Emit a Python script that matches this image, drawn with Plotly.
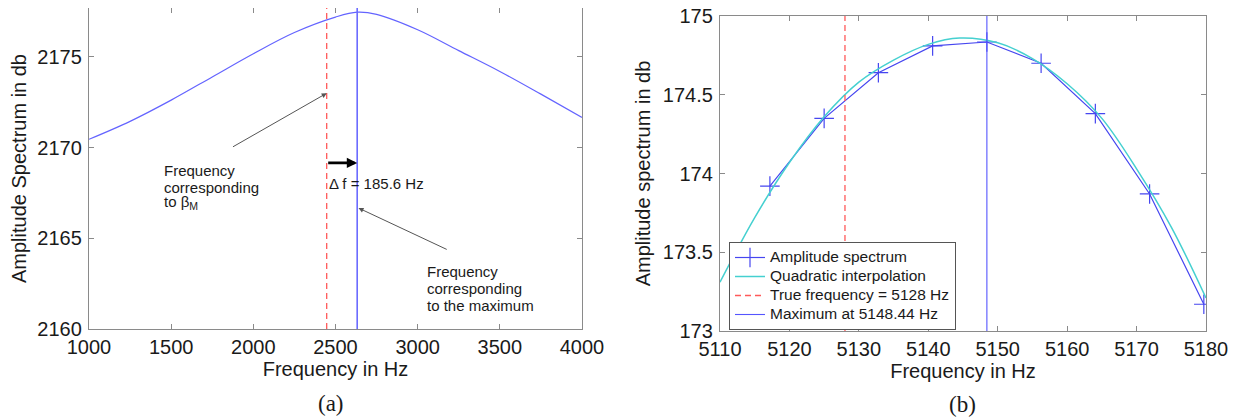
import plotly.graph_objects as go

# ---------------- data: panel (a) ----------------
a_freq = [1000, 1250, 1500, 1750, 2000, 2250, 2500, 2632, 2750, 3000, 3250, 3500, 3750, 4000]
a_db = [2170.46, 2171.45, 2172.62, 2173.90, 2175.18, 2176.35, 2177.20, 2177.47, 2177.35,
        2176.50, 2175.35, 2174.20, 2172.95, 2171.67]
a_beta_freq = 2446.4
a_max_freq = 2632.0
a_delta_text = "Δ f = 185.6 Hz"
a_xticks = [1000, 1500, 2000, 2500, 3000, 3500, 4000]
a_yticks = [2160, 2165, 2170, 2175]
a_xrange = [1000, 4000]
a_yrange = [2160, 2177.7]

# ---------------- data: panel (b) ----------------
b_freq = [5117.1875, 5125.0, 5132.8125, 5140.625, 5148.4375, 5156.25, 5164.0625, 5171.875, 5179.6875]
b_db = [173.92, 174.35, 174.64, 174.81, 174.835, 174.70, 174.38, 173.87, 173.17]
b_quad_freq = [5110, 5115, 5120, 5125, 5130, 5135, 5140, 5144.5, 5150, 5155, 5160, 5165, 5170, 5175, 5180]
b_quad_db = [173.31, 173.72, 174.07, 174.36, 174.58, 174.72, 174.82, 174.86, 174.83, 174.73,
             174.57, 174.35, 174.03, 173.66, 173.21]
b_true_freq = 5128.0
b_max_freq = 5148.44
b_xticks = [5110, 5120, 5130, 5140, 5150, 5160, 5170, 5180]
b_yticks = [173, 173.5, 174, 174.5, 175]
b_ytick_text = ["173", "173.5", "174", "174.5", "175"]
b_xrange = [5110, 5180]
b_yrange = [173, 175]
b_names = ["Amplitude spectrum", "Quadratic interpolation", "True frequency = 5128 Hz", "Maximum at 5148.44 Hz"]

SANS = "Arial, Liberation Sans, sans-serif"
SERIF = "Times New Roman, Liberation Serif, serif"
AX = "#8a8a8a"
TXT = "#1a1a1a"

# page body has an 8px margin: size the figure to fill the rest and map screen px -> paper fractions
OFF = 8
W, H = 1245 - OFF, 419 - OFF


def fx(s):
    return min(1.0, max(0.0, (s - OFF) / W))


def fy(s):
    return min(1.0, max(0.0, 1 - (s - OFF) / H))


def leg(name):
    return '<span style="font-size:15.5px">' + name + '</span>'


fig = go.Figure()

# panel (a)
fig.add_trace(go.Scatter(x=a_freq, y=a_db, mode="lines", line=dict(color="#6464ff", width=1.2, shape="spline"),
                         xaxis="x", yaxis="y", showlegend=False))
fig.add_trace(go.Scatter(x=[a_beta_freq, a_beta_freq], y=a_yrange, mode="lines",
                         line=dict(color="#ff5a5a", width=1.3, dash="6px,4px"),
                         xaxis="x", yaxis="y", showlegend=False))
fig.add_trace(go.Scatter(x=[a_max_freq, a_max_freq], y=a_yrange, mode="lines",
                         line=dict(color="#6b6bff", width=1.6),
                         xaxis="x", yaxis="y", showlegend=False))

# panel (b)
fig.add_trace(go.Scatter(x=b_freq, y=b_db, mode="lines+markers", name=leg(b_names[0]),
                         line=dict(color="#4646f0", width=1.2),
                         marker=dict(symbol="cross-thin", size=14, line=dict(color="#4646f0", width=1.2)),
                         xaxis="x2", yaxis="y2"))
fig.add_trace(go.Scatter(x=b_quad_freq, y=b_quad_db, mode="lines", name=leg(b_names[1]),
                         line=dict(color="#45d0d0", width=1.5, shape="spline"),
                         xaxis="x2", yaxis="y2"))
fig.add_trace(go.Scatter(x=[b_true_freq, b_true_freq], y=b_yrange, mode="lines",
                         name=leg(b_names[2]),
                         line=dict(color="#ff5a5a", width=1.3, dash="6px,4px"),
                         xaxis="x2", yaxis="y2"))
fig.add_trace(go.Scatter(x=[b_max_freq, b_max_freq], y=b_yrange, mode="lines",
                         name=leg(b_names[3]),
                         line=dict(color="#5555ff", width=1.1),
                         xaxis="x2", yaxis="y2"))

axis_common = dict(showline=True, linecolor=AX, linewidth=1.3, mirror="ticks", ticks="inside",
                   ticklen=5, tickcolor=AX, tickwidth=1, showgrid=False, zeroline=False,
                   automargin=False, ticklabeloverflow="allow",
                   tickfont=dict(family=SANS, size=20, color=TXT),
                   title_font=dict(family=SANS, size=20, color=TXT))

fig.update_layout(
    width=W, height=H,
    margin=dict(l=0, r=0, t=0, b=0, autoexpand=False),
    paper_bgcolor="white", plot_bgcolor="white",
    font=dict(family=SANS, color=TXT),
    xaxis=dict(domain=[fx(89), fx(582)], range=a_xrange, tickvals=a_xticks, anchor="y",
               title=dict(text="Frequency in Hz", standoff=4), **axis_common),
    yaxis=dict(domain=[fy(329), fy(8)], range=a_yrange, tickvals=a_yticks, anchor="x",
               ticklabelstandoff=2,
               title=dict(text="Amplitude Spectrum in db", standoff=6), **axis_common),
    xaxis2=dict(domain=[fx(720), fx(1206)], range=b_xrange, tickvals=b_xticks, anchor="y2",
                title=dict(text="Frequency in Hz", standoff=4), **axis_common),
    yaxis2=dict(domain=[fy(331), fy(16)], range=b_yrange, tickvals=b_yticks, ticktext=b_ytick_text,
                anchor="x2", ticklabelstandoff=2,
                title=dict(text="Amplitude spectrum in db", standoff=6), **axis_common),
    legend=dict(x=fx(729), y=fy(242), xanchor="left", yanchor="top",
                bgcolor="white", bordercolor="#555555", borderwidth=1,
                font=dict(family=SANS, size=10.8, color=TXT), tracegroupgap=0, itemwidth=30),
    showlegend=True,
)

ann_font = dict(family=SANS, size=15, color=TXT)
annotations = []
# left text block
for txt, yv in [("Frequency", 2168.75), ("corresponding", 2167.82), ("to β<sub>M</sub>", 2166.95)]:
    annotations.append(dict(x=1445, y=yv, xref="x", yref="y", text=txt, showarrow=False,
                            xanchor="left", yanchor="middle", font=ann_font))
# right text block
for txt, yv in [("Frequency", 2163.19), ("corresponding", 2162.26), ("to the maximum", 2161.32)]:
    annotations.append(dict(x=3043, y=yv, xref="x", yref="y", text=txt, showarrow=False,
                            xanchor="left", yanchor="middle", font=ann_font))
# delta text
annotations.append(dict(x=2451, y=2168.04, xref="x", yref="y", text=a_delta_text, showarrow=False,
                        xanchor="left", yanchor="middle", font=ann_font))
# thin arrows
annotations.append(dict(x=a_beta_freq, y=2173.0, xref="x", yref="y", ax=1867, ay=2170.0,
                        axref="x", ayref="y", showarrow=True, arrowhead=2, arrowsize=1,
                        arrowwidth=1, arrowcolor="#555555", text=""))
annotations.append(dict(x=a_max_freq + 8, y=2166.67, xref="x", yref="y", ax=3186, ay=2164.35,
                        axref="x", ayref="y", showarrow=True, arrowhead=2, arrowsize=1,
                        arrowwidth=1, arrowcolor="#555555", text=""))
# bold delta arrow
annotations.append(dict(x=a_max_freq, y=2169.16, xref="x", yref="y", ax=a_beta_freq, ay=2169.16,
                        axref="x", ayref="y", showarrow=True, arrowhead=2, arrowsize=0.8,
                        arrowwidth=2.6, arrowcolor="#000000", text=""))
# panel labels
annotations.append(dict(x=fx(331), y=fy(403), xref="paper", yref="paper", text="(a)",
                        showarrow=False, xanchor="center", yanchor="middle",
                        font=dict(family=SERIF, size=23, color=TXT)))
annotations.append(dict(x=fx(962), y=fy(404), xref="paper", yref="paper", text="(b)",
                        showarrow=False, xanchor="center", yanchor="middle",
                        font=dict(family=SERIF, size=23, color=TXT)))
fig.update_layout(annotations=annotations)

fig.write_html("out.html")
